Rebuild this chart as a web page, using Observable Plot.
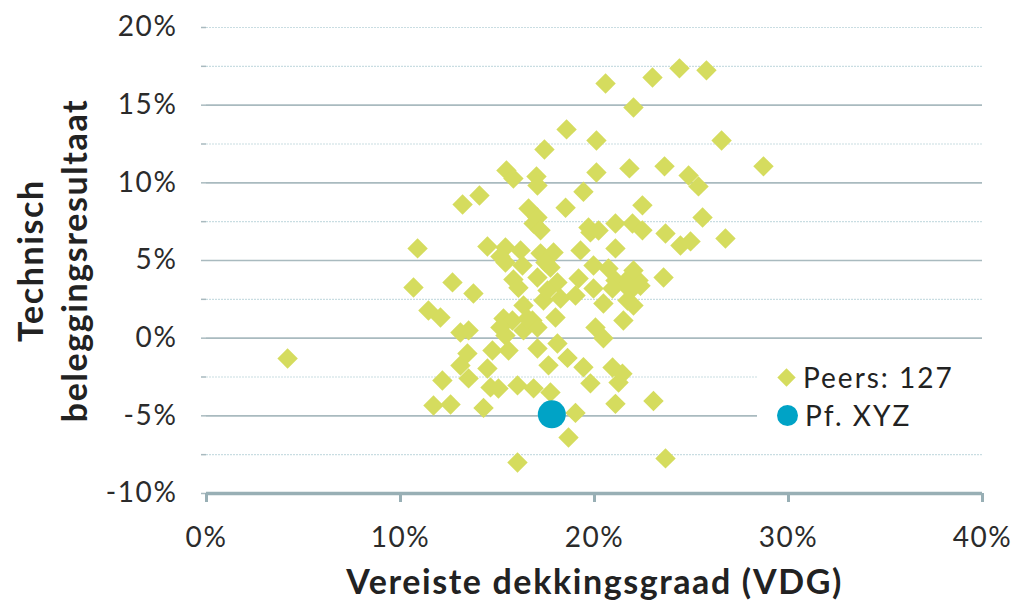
<!DOCTYPE html>
<html>
<head>
<meta charset="utf-8">
<script src="https://cdn.jsdelivr.net/npm/d3@7"></script>
<script src="https://cdn.jsdelivr.net/npm/@observablehq/plot@0.6"></script>
<style>
  body { margin: 0; background: #fff; font-family: Lato, sans-serif; }
  #wrap { position: relative; width: 1015px; height: 603px; }
  #legend { position: absolute; left: 757px; top: 350px; width: 225px; height: 92px; background: #fff; }
  .li { position: absolute; left: 18px; display: flex; align-items: center; font-family: Lato, sans-serif; font-size: 28px; letter-spacing: 2px; color: #222; }
  .dia { width: 13px; height: 13px; background: #d5dc5e; transform: rotate(45deg); margin: 0 10px 0 5px; }
  .cir { width: 21px; height: 21px; border-radius: 50%; background: #00a3c6; margin: 0 7px 0 2px; }
  #chart svg g[aria-label="y-axis tick label"] text,
  #chart svg g[aria-label="x-axis tick label"] text { letter-spacing: 1.6px; }
  #chart svg g[aria-label="text"] text { letter-spacing: 1.6px; }
</style>
</head>
<body>
<div id="wrap">
  <div id="chart"></div>
  <div id="legend">
    <div class="li" style="top:10px"><div class="dia"></div><span id="lg1"></span></div>
    <div class="li" style="top:48px"><div class="cir"></div><span id="lg2"></span></div>
  </div>
</div>
<script>
// Peers: Vereiste dekkingsgraad (%) and Technisch beleggingsresultaat (%)
const peerX = [4.18,10.67,10.88,11.44,12.06,11.70,12.58,12.16,12.68,13.09,13.51,13.09,13.45,13.51,13.20,14.07,13.76,14.48,14.48,14.28,14.64,15.05,14.74,15.46,15.82,15.41,15.41,15.82,16.29,15.31,15.77,15.41,15.57,16.03,16.03,16.34,16.34,16.60,16.86,17.06,17.01,17.06,17.42,17.22,17.06,16.80,17.06,17.06,16.86,17.37,17.63,17.73,17.89,17.73,18.09,18.25,17.99,18.09,18.61,18.51,18.56,19.02,18.66,19.28,19.18,19.43,19.43,19.69,19.79,19.95,19.95,19.79,20.05,20.10,20.10,20.46,20.46,20.57,20.72,20.93,21.08,21.08,21.08,21.08,21.24,21.44,21.49,21.75,21.80,21.86,21.96,22.01,22.01,22.27,22.47,22.47,22.99,23.04,23.56,23.61,23.66,23.66,24.38,24.43,24.95,24.85,25.36,25.57,25.77,26.55,26.75,28.71,
  15.15,16.08,17.47,17.58,21.65,22.37,21.70,20.21,15.15,16.55,17.22,19.02,20.93,16.19,22.01];
const peerY = [-1.31,3.26,5.78,1.78,1.33,-4.33,-4.27,-2.72,3.59,0.37,0.50,-1.76,-0.98,-2.59,8.61,9.19,2.88,5.90,-1.95,-4.49,-3.17,-3.24,-0.79,10.80,10.28,5.84,4.87,3.78,4.68,1.27,1.14,0.17,-0.79,-3.04,-8.00,2.11,0.50,8.35,7.38,7.77,10.41,9.83,12.15,5.46,3.91,1.14,0.69,-0.66,-3.23,2.43,-1.75,4.55,5.52,-3.49,3.59,2.55,1.33,-0.34,-1.27,8.40,13.44,-4.81,-6.39,5.65,3.84,9.43,-1.87,7.13,6.81,4.68,3.20,-2.91,0.69,12.72,10.67,2.23,0.00,16.40,4.49,-1.89,7.38,5.78,3.72,-4.23,-2.86,-2.29,1.14,3.84,10.93,3.07,7.38,14.85,2.10,3.72,6.94,8.55,16.78,-4.04,3.91,11.06,6.74,-7.74,17.37,5.97,6.23,10.47,9.77,7.77,17.24,12.72,6.42,11.06,
  5.26,3.25,4.87,3.07,3.38,3.38,2.43,6.93,0.69,1.27,6.94,2.75,3.20,5.65,4.36];
// Own fund
const fundX = [17.8];
const fundY = [-4.9];

const seriesNames = ["Peers: 127", "Pf. XYZ"];
const xTicks = [0, 10, 20, 30, 40];
const yTicks = [-10, -5, 0, 5, 10, 15, 20];
const yAll = [-10, -7.5, -5, -2.5, 0, 2.5, 5, 7.5, 10, 12.5, 15, 17.5, 20];
const yMajorGrid = [-5, 0, 5, 10, 15];
const yMinorGrid = [-7.5, -2.5, 2.5, 7.5, 12.5, 17.5, 20];
const xTitle = "Vereiste dekkingsgraad (VDG)";
const yTitle = "Technisch\nbeleggingsresultaat";

const peers = peerX.map((x, i) => ({x, y: peerY[i]}));
const fund = fundX.map((x, i) => ({x, y: fundY[i]}));
const pct = d => `${d}%`;

const chart = Plot.plot({
  width: 1015,
  height: 603,
  marginLeft: 206,
  marginRight: 33,
  marginTop: 27,
  marginBottom: 110,
  style: {fontFamily: "Lato, sans-serif", background: "#fff"},
  x: {domain: [0, 40], label: null},
  y: {domain: [-10, 20], label: null},
  marks: [
    Plot.ruleY(yMinorGrid, {stroke: "#c9dde2", strokeWidth: 1.2, strokeDasharray: "2,1"}),
    Plot.ruleY(yMajorGrid, {stroke: "#a9babf", strokeWidth: 1.6}),
    Plot.axisY(yAll, {tickSize: 5, tickFormat: () => "", stroke: "#a9babf", strokeWidth: 1.5, label: null}),
    Plot.axisY(yTicks, {tickSize: 0, tickPadding: 29, tickFormat: pct, fontSize: 28, fill: "#2b2b2b", label: null}),
    Plot.axisX(xTicks, {tickSize: 9, tickPadding: 25, tickFormat: pct, fontSize: 28, fill: "#2b2b2b", stroke: "#98afb5", strokeWidth: 3, label: null}),
    Plot.ruleY([-10], {stroke: "#98afb5", strokeWidth: 3.5}),
    Plot.dot(peers, {x: "x", y: "y", symbol: "diamond2", r: 9.2, fill: "#d5dc5e", stroke: "none"}),
    Plot.dot(fund, {x: "x", y: "y", symbol: "circle", r: 14, fill: "#00a3c6", stroke: "none"}),
    Plot.text([xTitle], {frameAnchor: "bottom", dy: 90, fontSize: 34, fontWeight: "bold", fill: "#222", text: d => d, lineAnchor: "middle", textAnchor: "middle"}),
    Plot.text([yTitle], {frameAnchor: "left", dx: -156, rotate: -90, fontSize: 34, fontWeight: "bold", fill: "#222", text: d => d, lineHeight: 1.3, lineAnchor: "middle", textAnchor: "middle"})
  ]
});
document.getElementById("chart").appendChild(chart);
document.getElementById("lg1").textContent = seriesNames[0];
document.getElementById("lg2").textContent = seriesNames[1];
</script>
</body>
</html>
